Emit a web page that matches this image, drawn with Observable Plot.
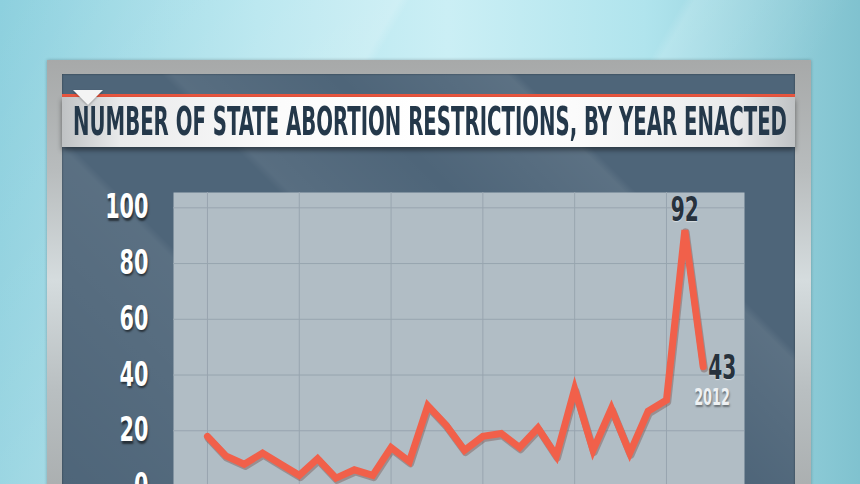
<!DOCTYPE html>
<html><head><meta charset="utf-8">
<script src="https://cdn.jsdelivr.net/npm/d3@7"></script>
<script src="https://cdn.jsdelivr.net/npm/@observablehq/plot@0.6"></script>
<style>
html,body{margin:0;padding:0;}
body{width:860px;height:484px;overflow:hidden;position:relative;
 background:
  linear-gradient(120deg, rgba(255,255,255,0) 0%, rgba(255,255,255,0.18) 35%, rgba(255,255,255,0) 36%, rgba(255,255,255,0) 60%, rgba(255,255,255,0.15) 61%, rgba(255,255,255,0) 75%),
  linear-gradient(90deg,#8dd0de 0%,#b3e5ee 30%,#cbeff5 52%,#b0e4ed 75%,#80c2cf 100%);
 font-family:"Liberation Sans Narrow","DejaVu Sans Condensed","Roboto Condensed","Open Sans",sans-serif;font-stretch:condensed;}
#frame{position:absolute;left:47px;top:60px;width:764px;height:440px;
 background:linear-gradient(180deg,#a7a9a9 0%,#b8bcbd 25%,#d5dcde 50%,#b9bfc1 75%,#a9adae 100%);
 box-shadow:0 0 3px rgba(0,0,0,0.25);}
#panel{position:absolute;left:62px;top:74px;width:733px;height:420px;
 background:
  linear-gradient(45deg, rgba(255,255,255,0) 0%, rgba(255,255,255,0.07) 30%, rgba(255,255,255,0) 31%, rgba(255,255,255,0) 45%, rgba(255,255,255,0.06) 46%, rgba(255,255,255,0) 60%, rgba(255,255,255,0.08) 75%, rgba(255,255,255,0) 76%),
  #4e6579;
 box-shadow:inset 0 0 2px rgba(0,0,0,0.5);}
#redline{position:absolute;left:62px;top:94px;width:733px;height:3px;background:#e9563f;}
#titlebar{position:absolute;left:62px;top:97px;width:733px;height:50px;
 background:linear-gradient(90deg,#bfc2c4 0%,#e9eaeb 8%,#fbfbfb 30%,#ffffff 50%,#fbfbfb 70%,#e9eaeb 92%,#bfc2c4 100%);
 box-shadow:0 3px 5px rgba(0,0,0,0.45);}
#title{position:absolute;left:10.7px;top:3px;white-space:nowrap;font-size:39px;font-weight:bold;color:#24384a;
 transform-origin:0 0;line-height:44px;letter-spacing:0px;}
#tri{position:absolute;left:73px;top:90px;width:0;height:0;border-left:15px solid transparent;border-right:15px solid transparent;border-top:15px solid #f4f4f4;
 filter:drop-shadow(0 1px 1px rgba(0,0,0,0.3));}
#chart{position:absolute;left:62px;top:150px;}
#chart svg{overflow:visible;}
#chart svg text{font-family:"Liberation Sans Narrow","DejaVu Sans Condensed","Roboto Condensed","Open Sans",sans-serif;font-stretch:condensed;}
.yax text{text-shadow:1px 2px 2px rgba(0,0,0,0.55);}
.lbl text{text-shadow:0 1px 1px rgba(255,255,255,0.5);}
.yr text{text-shadow:1px 2px 2px rgba(0,0,0,0.4);}
</style></head>
<body>
<div id="frame"></div>
<div id="panel"></div>
<div id="redline"></div>
<div id="titlebar"><span id="title"></span></div>
<div id="tri"></div>
<div id="chart"></div>
<script>
const titleText = "NUMBER OF STATE ABORTION RESTRICTIONS, BY YEAR ENACTED";
const years = [1985,1986,1987,1988,1989,1990,1991,1992,1993,1994,1995,1996,1997,1998,1999,2000,2001,2002,2003,2004,2005,2006,2007,2008,2009,2010,2011,2012];
const restrictions = [18,11,8,12,8,4,10,3,6,4,14,9,29,22,13,18,19,14,21,11,35,13,28,12,27,31,92,43];
const yTicks = [0,20,40,60,80,100];
const xGridYears = [1985,1990,1995,2000,2005,2010];
const peakYear = 2011;
const lastYear = 2012;

const data = years.map((y,i)=>({year:y, value:restrictions[i]}));
const peak = data.filter(d=>d.year===peakYear);
const last = data.filter(d=>d.year===lastYear);

const t = document.getElementById("title");
t.textContent = titleText;

const chart = Plot.plot({
  width:733, height:345,
  marginLeft:111, marginRight:51, marginTop:42, marginBottom:9,
  x:{domain:[1983.15,2014.25], axis:null},
  y:{domain:[0,105.5], axis:null},
  style:{background:"transparent", color:"white", overflow:"visible"},
  marks:[
    Plot.frame({fill:"#b1bdc5", stroke:null}),
    Plot.ruleX(xGridYears,{stroke:"#98a5af", strokeWidth:1}),
    Plot.ruleY(yTicks.filter(d=>d>0),{stroke:"#98a5af", strokeWidth:1}),
    Plot.axisY({ticks:yTicks, tickSize:0, tickPadding:25, label:null, fontSize:33, fontWeight:"bold", fill:"white", className:"yax"}),
    Plot.lineY(data,{x:"year", y:"value", stroke:"#6e3a32", strokeOpacity:0.35, strokeWidth:7.5, dy:2, dx:1}),
    Plot.lineY(data,{x:"year", y:"value", stroke:"#f1604a", strokeWidth:7, strokeLinejoin:"miter", strokeMiterlimit:4}),
    Plot.text(peak,{x:"year", y:"value", text:d=>String(d.value), dy:-20, fontSize:33, fontWeight:"bold", fill:"#27323d", className:"lbl"}),
    Plot.text(last,{x:"year", y:"value", text:d=>String(d.value), dx:5, dy:2, textAnchor:"start", fontSize:33, fontWeight:"bold", fill:"#27323d", className:"lbl"}),
    Plot.text(last,{x:"year", y:"value", text:d=>String(d.year), dx:-9, dy:31, textAnchor:"start", fontSize:23, fontWeight:"bold", fill:"#eef1f3", className:"yr"})
  ]
});
document.getElementById("chart").appendChild(chart);

// condense the chart's numerals like the broadcast font
function condense(sel, k){
  chart.querySelectorAll(sel).forEach(el=>{
    const tr = el.getAttribute("transform") || "";
    el.setAttribute("transform", (tr + ` scale(${k},1)`).trim());
  });
}
condense(".yax text", 0.7);
condense(".lbl text", 0.68);
condense(".yr text", 0.62);

// fit title to its width in the bar
const target = 714;
const w = t.getBoundingClientRect().width;
t.style.transform = `scaleX(${target/w})`;
</script>
</body></html>
